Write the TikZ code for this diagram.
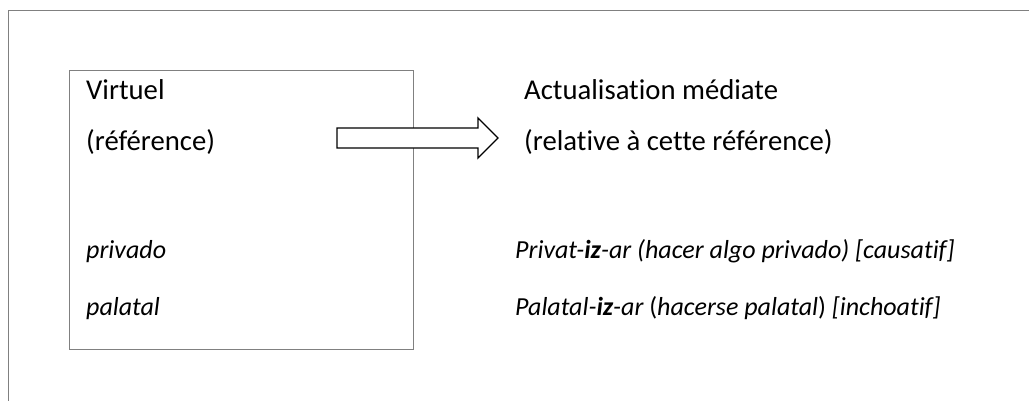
\documentclass[tikz,border=0pt]{standalone}
\usepackage{fontspec}
\setmainfont{Carlito}[Ligatures=NoCommon]
\begin{document}
\begin{tikzpicture}[x=1pt,y=-1pt,
  frame/.style={draw=black!50,line width=0.9pt},
  txt/.style={anchor=base west,inner sep=0pt,font=\fontsize{28.7}{32}\selectfont},
  itxt/.style={txt,font=\fontsize{26}{30}\selectfont\itshape},
  blockarrow/.style={draw=black,line width=1.4pt,fill=white,line join=miter}]
\useasboundingbox (0,0) rectangle (1029,400);
\fill[white] (0,0) rectangle (1029,400);
\draw[frame] (8,420) -- (8,10) -- (1040,10);
\draw[frame] (69,70) rectangle (413,349);
\node[txt] (virt) at (86,99) {Virtuel};
\node[txt] (ref) at (86,150) {(référence)};
\node[itxt] (priv) at (86,258) {privado};
\node[itxt] (pal) at (86,315) {palatal};
\node[txt] (act) at (524,99) {Actualisation médiate};
\node[txt] (rel) at (524,150) {(relative à cette référence)};
\node[itxt] (l1) at (515,258) {Privat-\textbf{iz}-ar (hacer algo privado) [causatif]};
\node[itxt] (l2) at (515,315) {Palatal-\textbf{iz}-ar \upshape(\itshape hacerse palatal\upshape) \itshape[inchoatif]};
\coordinate (as) at (337,128);
\coordinate (at) at (498,138);
\draw[blockarrow] (as) -- (478,128) -- (478,118) -- (at) -- (478,158) -- (478,148) -- (337,148) -- cycle;
\end{tikzpicture}
\end{document}
